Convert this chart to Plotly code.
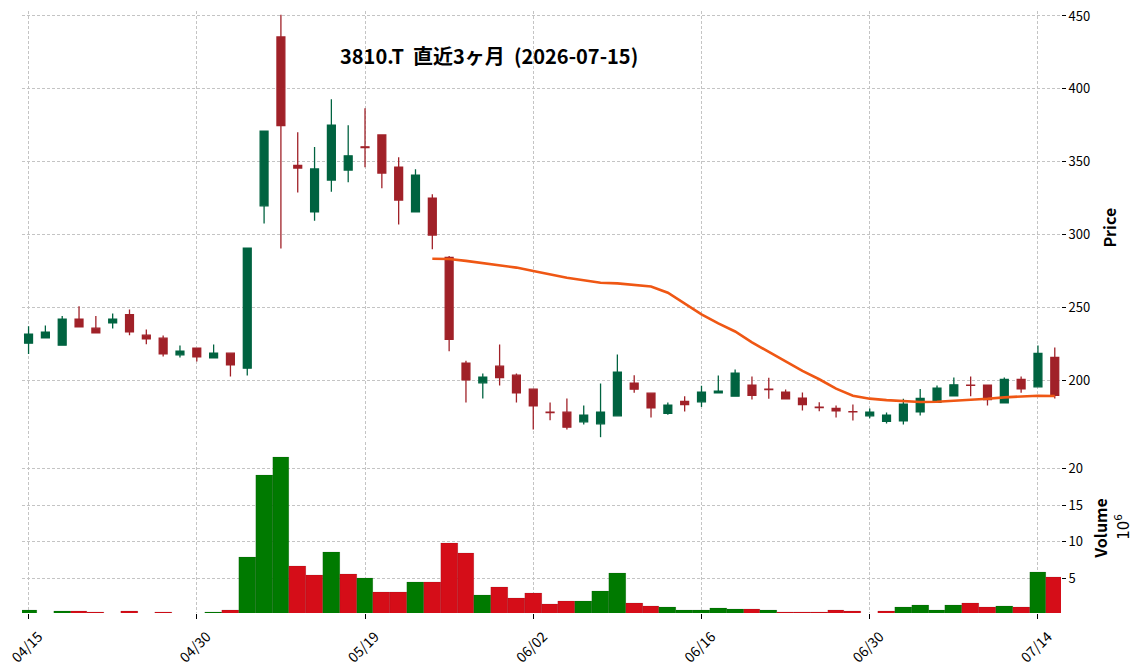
import pandas as pd
import plotly.graph_objects as go

# ---------------- data ----------------
dates = [
    "2026-04-15", "2026-04-16", "2026-04-17", "2026-04-20", "2026-04-21", "2026-04-22",
    "2026-04-23", "2026-04-24", "2026-04-27", "2026-04-28", "2026-04-30",
    "2026-05-01", "2026-05-07", "2026-05-08", "2026-05-11", "2026-05-12", "2026-05-13",
    "2026-05-14", "2026-05-15", "2026-05-18", "2026-05-19", "2026-05-20", "2026-05-21",
    "2026-05-22", "2026-05-25", "2026-05-26", "2026-05-27", "2026-05-28", "2026-05-29",
    "2026-06-01", "2026-06-02", "2026-06-03", "2026-06-04", "2026-06-05", "2026-06-08",
    "2026-06-09", "2026-06-10", "2026-06-11", "2026-06-12", "2026-06-15", "2026-06-16",
    "2026-06-17", "2026-06-18", "2026-06-19", "2026-06-22", "2026-06-23", "2026-06-24",
    "2026-06-25", "2026-06-26", "2026-06-29", "2026-06-30", "2026-07-01", "2026-07-02",
    "2026-07-03", "2026-07-06", "2026-07-07", "2026-07-08", "2026-07-09", "2026-07-10",
    "2026-07-13", "2026-07-14", "2026-07-15",
]

opens = [
    225.4, 229.0, 224.0, 241.9, 235.7, 239.4, 244.9, 230.9, 228.8, 217.4,
    222.0, 215.3, 218.5, 208.2, 319.7, 435.6, 347.5, 315.6, 337.4, 344.2,
    360.2, 368.3, 346.3, 315.6, 325.0, 284.3, 211.7, 198.2, 209.6, 203.4,
    193.8, 178.1, 178.0, 171.4, 170.0, 175.5, 197.9, 191.1, 177.3, 185.4,
    185.1, 191.3, 189.0, 196.6, 193.9, 191.8, 187.6, 181.4, 180.6, 178.4,
    175.5, 171.8, 172.0, 178.2, 184.7, 189.2, 196.6, 196.6, 184.4, 200.5,
    195.4, 215.6,
]
highs = [
    237.0, 237.6, 244.0, 250.8, 244.0, 245.8, 248.5, 234.8, 230.7, 223.8,
    222.0, 224.5, 218.5, 290.7, 371.0, 450.9, 370.1, 360.0, 392.8, 374.9,
    386.6, 368.3, 353.0, 344.7, 327.7, 285.2, 213.3, 204.6, 224.5, 204.6,
    193.8, 184.7, 187.4, 182.6, 197.7, 217.7, 203.4, 191.1, 184.7, 189.0,
    196.1, 203.2, 207.3, 202.5, 201.6, 193.6, 191.6, 184.9, 182.6, 183.3,
    180.6, 177.8, 187.2, 194.0, 196.4, 201.9, 202.5, 196.6, 201.9, 202.5,
    223.8, 222.5,
]
lows = [
    217.9, 229.0, 224.0, 236.6, 232.5, 235.5, 230.9, 224.7, 216.3, 215.6,
    212.8, 215.3, 202.5, 203.2, 307.6, 290.4, 328.9, 309.4, 329.3, 335.8,
    346.1, 331.7, 306.9, 315.6, 289.8, 219.9, 184.7, 187.4, 196.4, 184.7,
    166.1, 172.5, 166.1, 169.6, 160.8, 175.5, 191.3, 174.4, 176.2, 178.5,
    181.5, 191.3, 189.0, 186.7, 187.2, 186.7, 179.2, 178.7, 174.4, 172.3,
    173.9, 170.3, 169.6, 175.7, 184.7, 189.2, 189.0, 182.6, 184.4, 191.3,
    195.4, 187.4,
]
closes = [
    231.6, 233.0, 241.9, 236.6, 232.5, 241.9, 233.2, 228.4, 218.1, 219.9,
    216.0, 218.5, 210.5, 290.7, 371.0, 374.7, 345.6, 345.0, 375.1, 354.0,
    359.6, 342.2, 323.6, 340.8, 299.6, 228.0, 200.2, 202.1, 201.8, 191.3,
    182.3, 177.8, 167.7, 176.0, 178.0, 205.5, 193.8, 181.0, 182.8, 183.2,
    191.8, 192.4, 204.8, 189.5, 193.6, 187.2, 183.3, 181.2, 178.9, 178.2,
    178.0, 176.0, 183.5, 187.4, 194.5, 196.8, 196.4, 186.7, 200.5, 194.0,
    218.3, 189.5,
]
# volume in millions of shares
volumes = [
    0.62, 0.15, 0.49, 0.49, 0.35, 0.15, 0.49, 0.15, 0.35, 0.15,
    0.15, 0.35, 0.62, 7.87, 19.09, 21.55, 6.64, 5.41, 8.56, 5.55,
    5.00, 3.08, 3.08, 4.45, 4.45, 9.79, 8.42, 2.67, 3.77, 2.26,
    2.95, 1.44, 1.85, 1.85, 3.22, 5.68, 1.58, 1.17, 1.03, 0.62,
    0.62, 0.90, 0.76, 0.76, 0.62, 0.35, 0.35, 0.35, 0.62, 0.49,
    0.15, 0.49, 1.03, 1.31, 0.62, 1.31, 1.58, 1.03, 1.17, 1.03,
    5.82, 5.14,
]
mav_period = 25
tick_step = 10
price_ticks = [200, 250, 300, 350, 400, 450]
volume_ticks = [5, 10, 15, 20]
title_text = "3810.T  直近3ヶ月  (2026-07-15)"

# ---------------- derived ----------------
idx = list(range(len(dates)))
tick_idx = idx[::tick_step]
tick_txt = [dates[i][5:].replace("-", "/") for i in tick_idx]
mav = pd.Series(closes).rolling(mav_period).mean()

UP, DOWN = "#006340", "#A02128"
VUP, VDOWN = "#007a00", "#d50d18"
vol_colors = []
for i in idx:
    ref = opens[i] if i == 0 else closes[i - 1]
    vol_colors.append(VUP if closes[i] >= ref else VDOWN)

FONT = "Noto Sans CJK JP"
GRID = "#c4c4c4"

# ---------------- layout geometry ----------------
W, H = 1144, 670
L, R, T, B = 22, 82.5, 11, 57.3
plot_h = H - T - B
plot_w = W - L - R


def py(y_px):
    return (H - B - y_px) / plot_h


def px(x_px):
    return (x_px - L) / plot_w


fig = go.Figure()

fig.add_trace(go.Candlestick(
    x=idx, open=opens, high=highs, low=lows, close=closes,
    increasing=dict(line=dict(color=UP, width=1.3), fillcolor=UP),
    decreasing=dict(line=dict(color=DOWN, width=1.3), fillcolor=DOWN),
    whiskerwidth=0, xaxis="x", yaxis="y", showlegend=False, hoverinfo="skip",
))
fig.add_trace(go.Scatter(
    x=idx, y=mav, mode="lines", line=dict(color="#ef5714", width=2.6),
    xaxis="x", yaxis="y", showlegend=False, hoverinfo="skip",
))
fig.add_trace(go.Bar(
    x=idx, y=volumes, marker=dict(color=vol_colors, line=dict(width=0.4, color="rgba(0,0,0,0.25)")),
    width=1.0, xaxis="x2", yaxis="y2", showlegend=False, hoverinfo="skip",
))

xr = [-0.39, 61.37]
common_x = dict(
    range=xr, showgrid=True, gridcolor=GRID, griddash="3px,2px", gridwidth=0.8,
    tickvals=tick_idx, zeroline=False, showline=False, automargin=False,
)
common_y = dict(
    side="right", ticks="outside", ticklen=4, tickwidth=1, tickcolor="black",
    showgrid=True, gridcolor=GRID, griddash="3px,2px", gridwidth=0.8,
    zeroline=False, showline=False, automargin=False,
    tickfont=dict(family=FONT, size=13),
)
fig.update_layout(
    width=W, height=H,
    margin=dict(l=L, r=R, t=T, b=B, pad=0, autoexpand=False),
    paper_bgcolor="white", plot_bgcolor="white",
    font=dict(family=FONT, size=13, color="black"),
    boxgap=0.33, bargap=0,
    xaxis=dict(**common_x, anchor="y", showticklabels=False, ticks="",
               rangeslider=dict(visible=False)),
    xaxis2=dict(**common_x, anchor="y2", matches="x", ticktext=tick_txt,
                ticks="outside", ticklen=5, tickwidth=1, tickcolor="black",
                tickangle=-45, ticklabelshift=10, ticklabelstandoff=4,
                ticklabeloverflow="allow",
                tickfont=dict(family=FONT, size=14)),
    yaxis=dict(**common_y, domain=[py(437.5), 1], range=[160.5, 453.4],
               tickvals=price_ticks),
    yaxis2=dict(**common_y, domain=[0, py(442)], range=[0.255, 23.6],
                tickvals=volume_ticks),
)

fig.add_annotation(text="<b>" + title_text + "</b>", x=px(489), y=py(55.5),
                   xref="paper", yref="paper", showarrow=False,
                   xanchor="center", yanchor="middle",
                   font=dict(family=FONT, size=20, color="black"))
fig.add_annotation(text="<b>Price</b>", x=px(1110), y=py(227), xref="paper", yref="paper",
                   showarrow=False, textangle=-90, xanchor="center", yanchor="middle",
                   font=dict(family=FONT, size=16, color="black"))
fig.add_annotation(text="<b>Volume</b>", x=px(1101), y=py(528), xref="paper", yref="paper",
                   showarrow=False, textangle=-90, xanchor="center", yanchor="middle",
                   font=dict(family=FONT, size=16, color="black"))
fig.add_annotation(text="10<sup>6</sup>", x=px(1123), y=py(526), xref="paper", yref="paper",
                   showarrow=False, textangle=-90, xanchor="center", yanchor="middle",
                   font=dict(family="DejaVu Sans", size=15, color="black"))

fig.write_html("out.html")
